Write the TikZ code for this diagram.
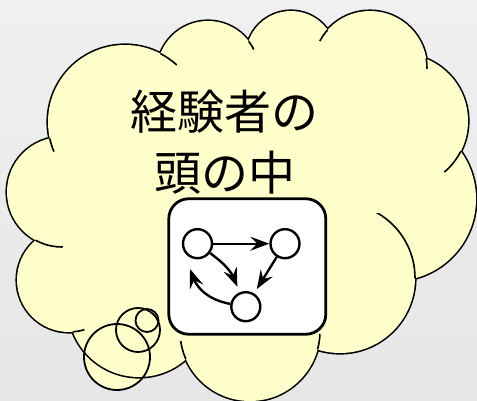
\documentclass[tikz,border=0pt]{standalone}
\usepackage{fontspec}
\newfontfamily\jpfont{Noto Sans CJK JP}
\usetikzlibrary{arrows.meta,bending}
\definecolor{cloudfill}{HTML}{FFFFCC}
\definecolor{bgtop}{HTML}{F0F0F0}
\definecolor{bgbot}{HTML}{E6E6E6}

% cloud lobes: centre x / centre y / radius (y grows downwards)
\def\lobelist{125/122/77, 208/72/51, 291/56/45, 370/68/57, 401/121/67,
  394/199/82, 340/278/75, 250/331/70, 139/306/71, 69/280/52, 62/192/55}

% short inner arc of one lobe, continuing into the neighbouring lobe
% #1 host centre, #2 host radius, #3 junction, #4 visible length, #5 lobe centre, #6 lobe radius
\newcommand\lobetail[6]{%
  \begin{scope}
    \clip #1 circle[radius=#2];
    \clip #3 circle[radius=#4];
    \draw[cloudline] #5 circle[radius=#6];
  \end{scope}}

\begin{document}
\begin{tikzpicture}[x=1pt,y=-1pt,
  cloudline/.style={line width=1.6pt, black},
  bubble/.style={line width=1.8pt, black},
  panel/.style={draw, line width=2.8pt, fill=white, rounded corners=20pt,
    minimum width=157pt, minimum height=135.5pt, inner sep=0pt},
  state/.style={circle, draw, line width=2.4pt, fill=white,
    minimum size=29pt, inner sep=0pt},
  link/.style={line width=2.4pt,
    -{Stealth[length=19pt, width=14pt, inset=7pt]}},
  caption/.style={font=\jpfont\fontsize{47}{61}\selectfont, align=center,
    inner sep=0pt, text=black}]

\useasboundingbox (0,0) rectangle (477,401);
\shade[top color=bgtop, bottom color=bgbot] (0,0) rectangle (477,401);

% thought bubbles: fill first, outlines later
\fill[cloudfill] (117,357) circle[radius=33] (138,330) circle[radius=22]
  (147,320.5) circle[radius=11.5];

% cloud: doubled outline of every lobe, then the fill hides the inner half
\foreach \x/\y/\r in \lobelist {\draw[line width=3.2pt] (\x,\y) circle[radius=\r];}
\fill[cloudfill] (125,122) -- (208,72) -- (291,56) -- (370,68) -- (401,121)
  -- (394,199) -- (340,278) -- (250,331) -- (139,306) -- (69,280) -- (62,192) -- cycle;
\foreach \x/\y/\r in \lobelist {\fill[cloudfill] (\x,\y) circle[radius=\r];}

% inner arcs of the cloud
\lobetail{(62,192)}{55}{(49.8,138.3)}{14}{(125,122)}{77}
\lobetail{(208,72)}{51}{(160.4,53.5)}{20}{(125,122)}{77}
\lobetail{(291,56)}{45}{(248.6,41.2)}{10}{(208,72)}{51}
\lobetail{(291,56)}{45}{(327.6,29.8)}{14}{(370,68)}{57}
\lobetail{(401,121)}{67}{(426.3,58.9)}{10}{(370,68)}{57}
\lobetail{(394,199)}{82}{(462.2,148.1)}{30}{(401,121)}{67}
\lobetail{(340,278)}{75}{(317.5,349.6)}{16}{(250,331)}{70}
\lobetail{(139,306)}{71}{(185.9,359.2)}{19}{(250,331)}{70}
\lobetail{(139,306)}{71}{(72.9,331.8)}{12}{(69,280)}{52}
\lobetail{(69,280)}{52}{(35.6,240.2)}{28}{(62,192)}{55}
\begin{scope}
  \clip (394,199) circle[radius=82];
  \clip (370,214) rectangle (430,300);
  \draw[cloudline] (340,278) circle[radius=75];
\end{scope}

% thought bubble outlines
\draw[bubble] (117,357) circle[radius=33];
\draw[bubble] (138,330) circle[radius=22];
\draw[bubble] (147,320.5) circle[radius=11.5];

% caption
\node[caption] (caption) at (224.5,142) {経験者の\\頭の中};

% panel with the small graph
\node[panel] (panel) at (247.3,266.5) {};
\node[state] (a) at (197.5,243.7) {};
\node[state] (b) at (285,243.7) {};
\node[state] (c) at (245.8,306.7) {};

\draw[link] (a) -- (b);
\draw[link, shorten >=5pt] (b) -- (c);
\draw[link] (a) .. controls (222,262) and (233.4,271.3)
  .. ([xshift=-8.4pt, yshift=19.9pt]c.center);
\draw[link] (c) .. controls (214,301) and (195.5,292.3)
  .. ([xshift=-7.5pt, yshift=-25.3pt]a.center);
\end{tikzpicture}
\end{document}
